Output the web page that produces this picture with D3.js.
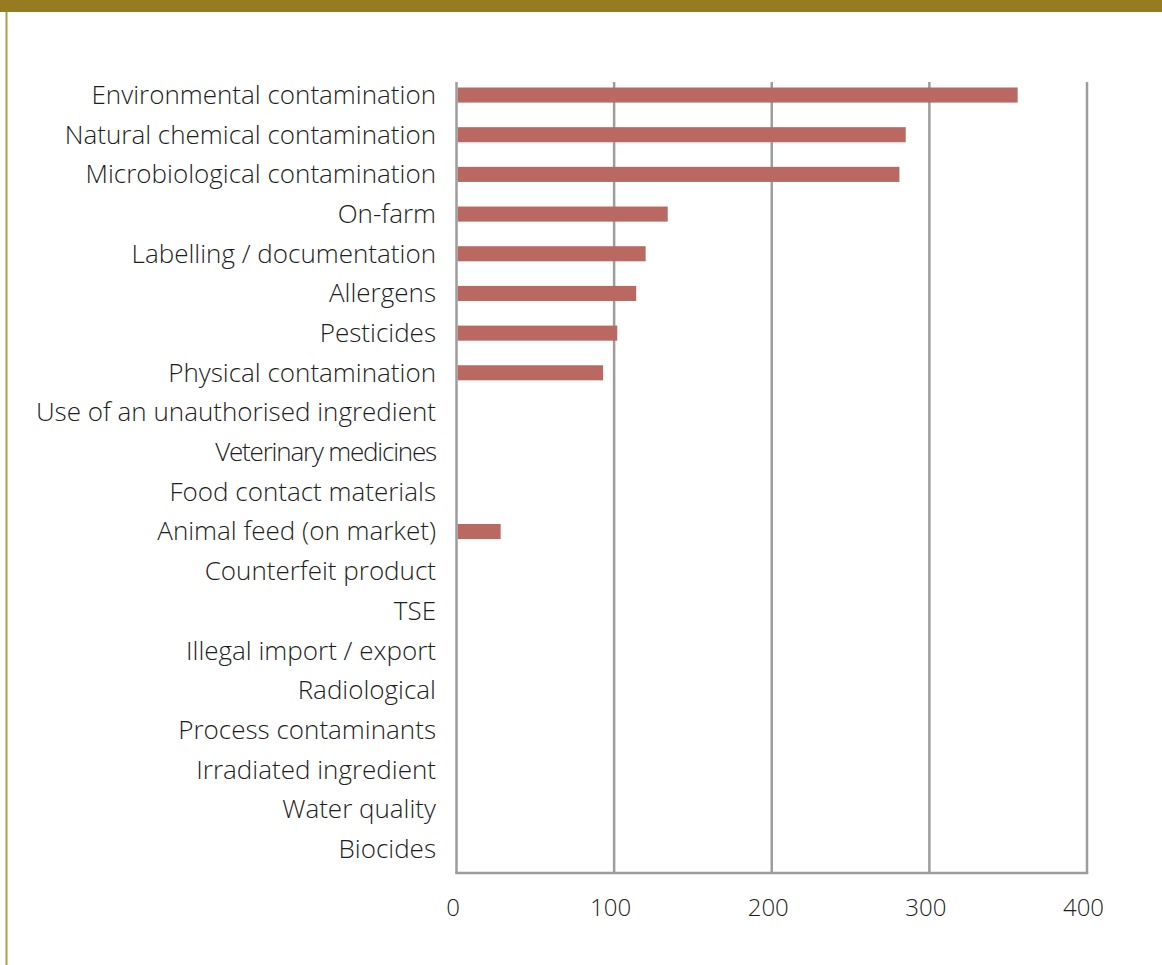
<!DOCTYPE html>
<html>
<head>
<meta charset="utf-8">
<script src="https://cdn.jsdelivr.net/npm/d3@7"></script>
<style>
  html, body { margin: 0; padding: 0; background: #fff; }
  svg { display: block; }
  text { font-family: "Open Sans", "Noto Sans", sans-serif; font-weight: 300; fill: #1e1e1e; }
</style>
</head>
<body>
<svg id="chart" width="1162" height="965"></svg>
<script>
const categories = [
  "Environmental contamination",
  "Natural chemical contamination",
  "Microbiological contamination",
  "On-farm",
  "Labelling / documentation",
  "Allergens",
  "Pesticides",
  "Physical contamination",
  "Use of an unauthorised ingredient",
  "Veterinary medicines",
  "Food contact materials",
  "Animal feed (on market)",
  "Counterfeit product",
  "TSE",
  "Illegal import / export",
  "Radiological",
  "Process contaminants",
  "Irradiated ingredient",
  "Water quality",
  "Biocides"
];
const values = [356, 285, 281, 134, 120, 114, 102, 93, 0, 0, 0, 28, 0, 0, 0, 0, 0, 0, 0, 0];
const tickValues = [0, 100, 200, 300, 400];
const tickLabels = ["0", "100", "200", "300", "400"];

const svg = d3.select("#chart");
const W = 1162, H = 965;

// frame decoration
svg.append("rect").attr("x", 0).attr("y", 0).attr("width", W).attr("height", 12).attr("fill", "#967B23");
svg.append("line").attr("x1", 6.5).attr("x2", 6.5).attr("y1", 12).attr("y2", H)
  .attr("stroke", "#B39A4A").attr("stroke-width", 2);

const x = d3.scaleLinear().domain([0, 400]).range([456.5, 1087]);
const y = d3.scaleBand().domain(categories).range([75.2, 868.8]).paddingInner(0.62).paddingOuter(0.31);
const gridTop = 82, gridBottom = 873;

// gridlines
const grid = svg.append("g");
grid.selectAll("line").data(tickValues).join("line")
  .attr("x1", d => x(d)).attr("x2", d => x(d))
  .attr("y1", gridTop).attr("y2", gridBottom)
  .attr("stroke", "#9d9d9d").attr("stroke-width", 2.5);
// bottom axis line
svg.append("line").attr("x1", x(0) - 1.25).attr("x2", x(400) + 1.25)
  .attr("y1", gridBottom).attr("y2", gridBottom)
  .attr("stroke", "#9d9d9d").attr("stroke-width", 2.5);

// bars
svg.append("g").selectAll("rect").data(categories).join("rect")
  .attr("x", x(0) + 1.25)
  .attr("y", d => y(d))
  .attr("height", y.bandwidth())
  .attr("width", (d, i) => Math.max(0, x(values[i]) - x(0) - 1.25))
  .attr("fill", "#B96961")
  .attr("display", (d, i) => values[i] > 0 ? null : "none");

// category labels
const labels = svg.append("g").selectAll("text").data(categories).join("text")
  .attr("x", 436)
  .attr("y", d => y(d) + y.bandwidth() / 2 + 2)
  .attr("text-anchor", "end")
  .attr("dominant-baseline", "middle")
  .style("font-size", "26px")
  .text(d => d);
labels.filter(d => d === "Veterinary medicines").style("letter-spacing", "-1.2px");

// tick labels
const xAxis = d3.axisBottom(x).tickValues(tickValues).tickFormat((d, i) => tickLabels[i]).tickSize(0).tickPadding(0);
const ax = svg.append("g").attr("transform", `translate(-4, 910)`).call(xAxis);
ax.select(".domain").remove();
ax.selectAll("text")
  .attr("dy", null)
  .attr("y", 0)
  .attr("dominant-baseline", "middle")
  .style("font-size", "24px")
  .style("font-family", "'Open Sans', 'Noto Sans', sans-serif")
  .style("font-weight", 300)
  .attr("fill", "#1e1e1e");
</script>
</body>
</html>
